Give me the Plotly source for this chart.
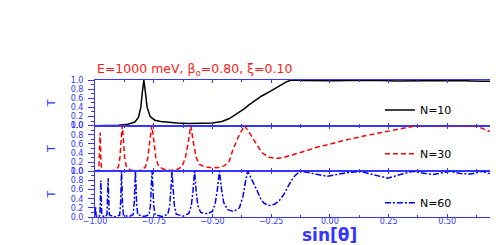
import plotly.graph_objects as go
from plotly.subplots import make_subplots

# ---- data ----
n10_x = [-1.0, -0.95, -0.9, -0.86, -0.83, -0.815, -0.805, -0.798, -0.792, -0.786, -0.778, -0.765,
         -0.745, -0.72, -0.69, -0.65, -0.6, -0.55, -0.5, -0.46, -0.43, -0.415, -0.39, -0.365,
         -0.343, -0.32, -0.29, -0.258, -0.23, -0.203, -0.185, -0.17, -0.15, -0.12, -0.08, -0.03,
         0.02, 0.08, 0.15, 0.22, 0.28, 0.35, 0.42, 0.48, 0.55, 0.6, 0.65, 0.716]
n10_y = [0.0, 0.0, 0.01, 0.03, 0.08, 0.18, 0.4, 0.75, 1.0, 0.75, 0.4, 0.2,
         0.12, 0.09, 0.07, 0.06, 0.05, 0.05, 0.06, 0.09, 0.15, 0.2, 0.28, 0.37,
         0.46, 0.55, 0.65, 0.74, 0.83, 0.9, 0.96, 0.99, 1.0, 0.99, 0.985, 0.98,
         0.985, 0.99, 0.995, 0.99, 0.98, 0.985, 0.99, 0.98, 0.99, 0.98, 0.97, 0.975]

n30_x = [-1.0, -0.99, -0.984, -0.981, -0.978, -0.975, -0.972, -0.965, -0.95, -0.93, -0.91, -0.9,
         -0.894, -0.889, -0.884, -0.879, -0.874, -0.866, -0.85, -0.82, -0.8, -0.785, -0.775, -0.767,
         -0.758, -0.749, -0.741, -0.73, -0.71, -0.68, -0.65, -0.63, -0.615, -0.604, -0.592, -0.58,
         -0.569, -0.555, -0.53, -0.48, -0.45, -0.43, -0.415, -0.39, -0.364, -0.343, -0.325, -0.31,
         -0.29, -0.26, -0.23, -0.2, -0.15, -0.1, -0.06, 0.0, 0.08, 0.15, 0.22, 0.3,
         0.36, 0.42, 0.5, 0.56, 0.62, 0.65, 0.674, 0.695, 0.716]
n30_y = [0.0, 0.0, 0.03, 0.3, 0.85, 0.3, 0.03, 0.0, 0.0, 0.01, 0.04, 0.1,
         0.3, 0.7, 1.0, 0.7, 0.3, 0.1, 0.03, 0.01, 0.03, 0.1, 0.3, 0.65,
         1.0, 0.65, 0.3, 0.12, 0.05, 0.02, 0.04, 0.1, 0.3, 0.6, 1.0, 0.6,
         0.3, 0.15, 0.09, 0.08, 0.12, 0.2, 0.44, 0.75, 1.0, 0.85, 0.7, 0.59,
         0.41, 0.31, 0.28, 0.3, 0.37, 0.45, 0.52, 0.6, 0.70, 0.78, 0.85, 0.93,
         0.99, 1.0, 1.0, 1.0, 0.99, 0.94, 0.88, 0.9, 0.94]

n60_points = [
    (-1.000, 0.05), (-0.998, 0.22), (-0.995, 0.02), (-0.985, 0.0), (-0.979, 0.05), (-0.976, 0.5),
    (-0.975, 0.8), (-0.974, 0.5), (-0.971, 0.04), (-0.960, 0.0), (-0.949, 0.05), (-0.946, 0.45),
    (-0.944, 0.85), (-0.942, 0.45), (-0.939, 0.05), (-0.920, 0.0), (-0.895, 0.04), (-0.891, 0.3),
    (-0.888, 0.85), (-0.887, 1.0), (-0.886, 0.85), (-0.883, 0.3), (-0.879, 0.04), (-0.855, 0.01),
    (-0.838, 0.05), (-0.833, 0.3), (-0.830, 0.8), (-0.828, 1.0), (-0.826, 0.8), (-0.823, 0.3),
    (-0.818, 0.05), (-0.790, 0.01), (-0.770, 0.05), (-0.764, 0.25), (-0.760, 0.7), (-0.757, 1.0),
    (-0.754, 0.7), (-0.750, 0.25), (-0.744, 0.05), (-0.715, 0.01), (-0.690, 0.06), (-0.682, 0.25),
    (-0.677, 0.6), (-0.672, 1.0), (-0.667, 0.6), (-0.662, 0.25), (-0.654, 0.06), (-0.625, 0.02),
    (-0.600, 0.08), (-0.590, 0.25), (-0.583, 0.55), (-0.576, 1.0), (-0.569, 0.55), (-0.562, 0.25),
    (-0.550, 0.1), (-0.523, 0.07), (-0.500, 0.12), (-0.488, 0.3), (-0.479, 0.6), (-0.470, 1.0),
    (-0.461, 0.6), (-0.452, 0.32), (-0.435, 0.16), (-0.410, 0.12), (-0.385, 0.2), (-0.370, 0.45),
    (-0.360, 0.75), (-0.350, 1.0), (-0.340, 0.9), (-0.325, 0.75), (-0.310, 0.58), (-0.295, 0.4),
    (-0.280, 0.3), (-0.258, 0.25), (-0.235, 0.28), (-0.215, 0.36), (-0.195, 0.5), (-0.175, 0.7),
    (-0.155, 0.87), (-0.135, 0.97), (-0.120, 1.0), (-0.070, 0.95), (-0.010, 0.89), (0.060, 0.96),
    (0.128, 1.0), (0.190, 0.92), (0.247, 0.85), (0.300, 0.93), (0.353, 1.0), (0.400, 0.96),
    (0.440, 0.93), (0.510, 1.0), (0.560, 0.95), (0.600, 0.94), (0.650, 1.0), (0.680, 0.95),
    (0.716, 0.86),
]
n60_x = [p[0] for p in n60_points]
n60_y = [p[1] for p in n60_points]

series_names = ["N=10", "N=30", "N=60"]
title_text = "E=1000 meV, β<sub>o</sub>=0.80, ξ=0.10"
x_title = "sin[θ]"
y_title = "T"

BLUE = "#3535ff"
FONT = "DejaVu Sans"

fig = make_subplots(rows=3, cols=1, shared_xaxes=True, vertical_spacing=0)

fig.add_trace(go.Scatter(x=n10_x, y=n10_y, mode="lines", name=series_names[0],
                         line=dict(color="black", width=1.5), legend="legend"), row=1, col=1)
fig.add_trace(go.Scatter(x=n30_x, y=n30_y, mode="lines", name=series_names[1],
                         line=dict(color="#ff0000", width=1.5, dash="5px,3px"), legend="legend2"),
              row=2, col=1)
fig.add_trace(go.Scatter(x=n60_x, y=n60_y, mode="lines", name=series_names[2],
                         line=dict(color="#0000ff", width=1.5, dash="6px,2px,2px,2px"), legend="legend3"),
              row=3, col=1)

for r in (1, 2, 3):
    fig.update_xaxes(range=[-1.0, 0.716], tick0=-1.0, dtick=0.25, tickformat=".2f",
                     ticks="inside", ticklen=3, tickcolor=BLUE, tickwidth=1,
                     minor=dict(dtick=0.125, ticks="inside", ticklen=2, tickcolor=BLUE),
                     showline=True, linecolor=BLUE, linewidth=1, mirror="ticks",
                     showgrid=False, zeroline=False, automargin=False,
                     showticklabels=(r == 3), ticklabelstandoff=-4,
                     tickfont=dict(family=FONT, size=8, color=BLUE),
                     row=r, col=1)
    fig.update_yaxes(range=[0, 1.0], tick0=0, dtick=0.2, tickformat=".1f",
                     ticks="outside", ticklen=6, tickcolor=BLUE, tickwidth=1,
                     minor=dict(dtick=0.1, ticks="outside", ticklen=3, tickcolor=BLUE),
                     showline=True, linecolor=BLUE, linewidth=1,
                     showgrid=False, zeroline=False, automargin=False,
                     tickfont=dict(family=FONT, size=8, color=BLUE),
                     ticklabelstandoff=3,
                     title=dict(text=y_title, font=dict(family=FONT, size=11, color=BLUE), standoff=12),
                     row=r, col=1)

fig.add_annotation(text=title_text, xref="paper", yref="paper", x=0.0, y=1.0,
                   xanchor="left", yanchor="bottom", yshift=0, showarrow=False,
                   font=dict(family=FONT, size=12.5, color="#ff1a1a"))
fig.add_annotation(text=x_title, xref="x3", yref="paper", x=0.0, y=0.0,
                   xanchor="center", yanchor="middle", yshift=-18, showarrow=False,
                   font=dict(family=FONT, size=17, color=BLUE, weight="bold"))

leg_common = dict(bgcolor="rgba(0,0,0,0)", borderwidth=0, xanchor="left", yanchor="middle",
                  font=dict(family=FONT, size=11, color="black"))
fig.update_layout(
    width=490, height=237,
    margin=dict(l=87, r=0, t=72, b=28, autoexpand=False),
    paper_bgcolor="white", plot_bgcolor="white",
    showlegend=True,
    legend=dict(x=0.707, y=0.781, **leg_common),
    legend2=dict(x=0.707, y=0.461, **leg_common),
    legend3=dict(x=0.707, y=0.104, **leg_common),
)

fig.write_html("out.html")
